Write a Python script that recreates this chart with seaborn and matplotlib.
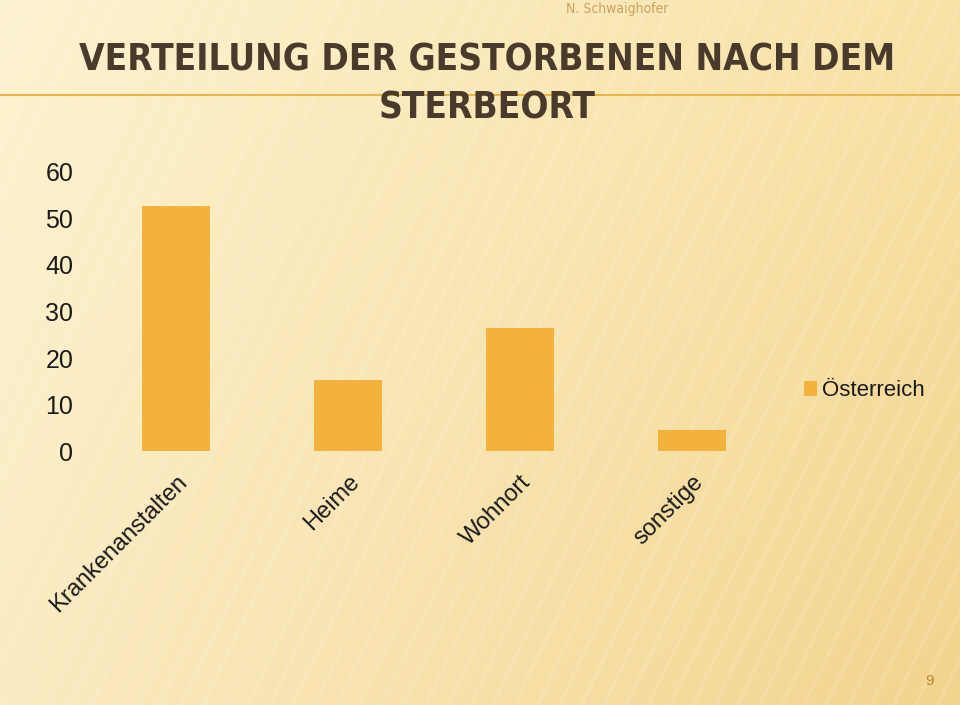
import numpy as np
import pandas as pd
import matplotlib
matplotlib.use("Agg")
import matplotlib.pyplot as plt
import seaborn as sns
from matplotlib.colors import to_rgb

categories = ["Krankenanstalten", "Heime", "Wohnort", "sonstige"]
values = [52.7, 15.3, 26.5, 4.6]
series_name = "Österreich"
y_ticks = [0, 10, 20, 30, 40, 50, 60]
title_line1 = "VERTEILUNG DER GESTORBENEN NACH DEM"
title_line2 = "STERBEORT"
author = "N. Schwaighofer"
page = "9"

df = pd.DataFrame({"Sterbeort": categories, "Anteil": values, "Serie": series_name})

sns.set_theme(style="white")
plt.rcParams["font.family"] = ["Liberation Sans", "DejaVu Sans"]

fig = plt.figure(figsize=(9.6, 7.05), dpi=100)

# background gradient
bg = fig.add_axes([0, 0, 1, 1], zorder=-10)
h, w = 141, 192
yy, xx = np.mgrid[0:1:h * 1j, 0:1:w * 1j]
c_tl = np.array(to_rgb("#FDF2D0"))
c_tr = np.array(to_rgb("#F8E2A6"))
c_bl = np.array(to_rgb("#FBEBC2"))
c_br = np.array(to_rgb("#F3D48E"))
img = ((1 - xx)[..., None] * (1 - yy)[..., None] * c_tl + xx[..., None] * (1 - yy)[..., None] * c_tr
       + (1 - xx)[..., None] * yy[..., None] * c_bl + xx[..., None] * yy[..., None] * c_br)
bg.imshow(img, aspect="auto", extent=[0, 1, 0, 1], origin="upper")
for x0 in np.linspace(-0.6, 1.0, 70):
    bg.plot([x0, x0 + 0.35], [0, 1], color="white", alpha=0.12, lw=2.5)
bg.set_xlim(0, 1)
bg.set_ylim(0, 1)
bg.axis("off")

ax = fig.add_axes([0.09375, 0.3596, 0.7167, 0.397])
sns.barplot(data=df, x="Sterbeort", y="Anteil", hue="Serie", palette=["#F3B23D"],
            width=0.4, ax=ax, saturation=1, legend=True, linewidth=0)
ax.set_facecolor("none")
ax.set_ylim(0, 60)
ax.set_xlim(-0.5, len(categories) - 0.5)
ax.set_yticks(y_ticks)
ax.set_yticklabels([str(t) for t in y_ticks], fontsize=18, color="#1a1a1a")
ax.tick_params(axis="y", length=0, pad=12)
ax.tick_params(axis="x", length=0, pad=14)
ax.set_xticks(range(len(categories)))
ax.set_xticklabels(categories, rotation=45, ha="right", va="top", rotation_mode="anchor",
                   fontsize=17, color="#1a1a1a")
ax.set_xlabel("")
ax.set_ylabel("")
for s in ax.spines.values():
    s.set_visible(False)
ax.grid(False)

leg = ax.legend(loc="center left", bbox_to_anchor=(0.837, 0.4457), bbox_transform=fig.transFigure,
                frameon=False, fontsize=16, handlelength=0.6, handleheight=0.6,
                handletextpad=0.25, borderaxespad=0, borderpad=0)
for t in leg.get_texts():
    t.set_color("#1a1a1a")

fig.add_artist(plt.Line2D([0.0, 1.0], [1 - 95 / 705, 1 - 95 / 705], color="#E9B54A", lw=1.5, zorder=1))
tkw = dict(ha="center", va="center", fontsize=33, fontweight="bold", color="#4A3A2C",
           family=["DejaVu Sans"], fontstretch="condensed", zorder=3)
t1 = fig.text(0.507, 1 - 60 / 705, title_line1, **tkw)
t2 = fig.text(0.507, 1 - 108 / 705, title_line2, **tkw)
fig.canvas.draw()
r = fig.canvas.get_renderer()
wpx = t1.get_window_extent(r).width
if wpx > 820:
    fs = 33 * 820 / wpx
    t1.set_fontsize(fs)
    t2.set_fontsize(fs)
fig.text(617 / 960, 1 - 9 / 705, author, ha="center", va="center", fontsize=10,
         color="#C9A261", family=["DejaVu Sans"], fontstretch="condensed")
fig.text(930 / 960, 1 - 681 / 705, page, ha="center", va="center", fontsize=11, color="#B88A2E")

fig.savefig("out.png", dpi=100)
